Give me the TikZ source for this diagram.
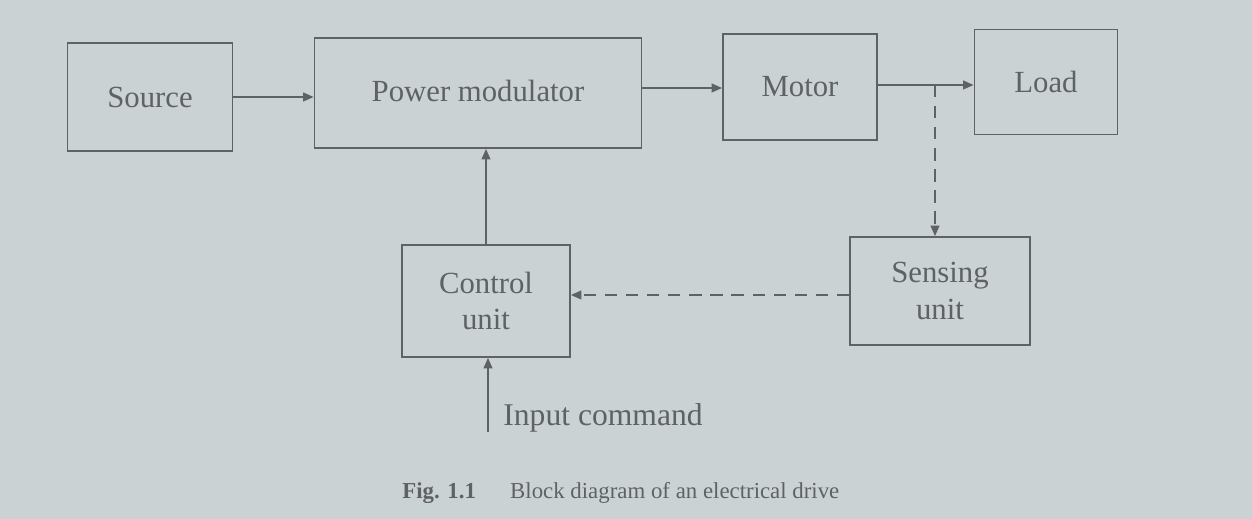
\documentclass[tikz,border=0pt]{standalone}
\usepackage{fontspec}
\setmainfont{Liberation Serif}
\usetikzlibrary{arrows.meta,positioning,calc}
\definecolor{paper}{RGB}{203,210,211}
\definecolor{ink}{RGB}{95,98,100}
\begin{document}
\begin{tikzpicture}[x=0.02cm, y=-0.02cm,
    blk/.style={draw=ink, line width=1pt, align=center, inner sep=0pt, text=ink, font=\fontsize{17.5}{21}\selectfont},
    arr/.style={-{Triangle[length=6pt,width=5pt]}, line width=1pt, draw=ink, ink},
    darr/.style={-{Triangle[length=6pt,width=5pt]}, line width=1pt, draw=ink, ink, dash pattern=on 7pt off 5pt},
    lbl/.style={text=ink, font=\fontsize{18}{21}\selectfont, inner sep=0pt}
]
\fill[paper] (0,0) rectangle (1252,519);
\node[blk, minimum width=3.3cm, minimum height=2.16cm] (src) at (150,97) {Source};
\node[blk, minimum width=6.54cm, minimum height=2.2cm] (pm) at (478,93) {\raisebox{1mm}{Power modulator}};
\node[blk, minimum width=3.08cm, minimum height=2.12cm] (mot) at (800,87) {Motor};
\node[blk, minimum width=2.86cm, minimum height=2.1cm] (load) at (1046,82) {Load};
\node[blk, minimum width=3.6cm, minimum height=2.16cm] (sens) at (940,291) {Sensing\\unit};
\node[blk, minimum width=3.36cm, minimum height=2.24cm] (ctrl) at (486,301) {Control\\unit};
\coordinate (tap) at (935,85);
\coordinate (cmd) at (488,432);

\draw[arr] (src.east |- 0,97) -- (pm.west |- 0,97);
\draw[arr] (pm.east |- 0,88) -- (mot.west |- 0,88);
\draw[arr] (mot.east |- 0,85) -- (load.west |- 0,85);
\draw[darr] (tap) -- (tap |- sens.north);
\draw[darr] (sens.west |- 0,295) -- (ctrl.east |- 0,295);
\draw[arr] (ctrl.north) -- (ctrl.north |- pm.south);
\draw[arr] (cmd) -- (cmd |- ctrl.south);
\node[lbl, anchor=west] (inp) at (503,418) {Input command};
\node[lbl, anchor=west, font=\fontsize{13}{16}\selectfont] (cap) at (402,493) {\textbf{Fig. 1.1}\hspace{1.5em}Block diagram of an electrical drive};
\end{tikzpicture}
\end{document}
